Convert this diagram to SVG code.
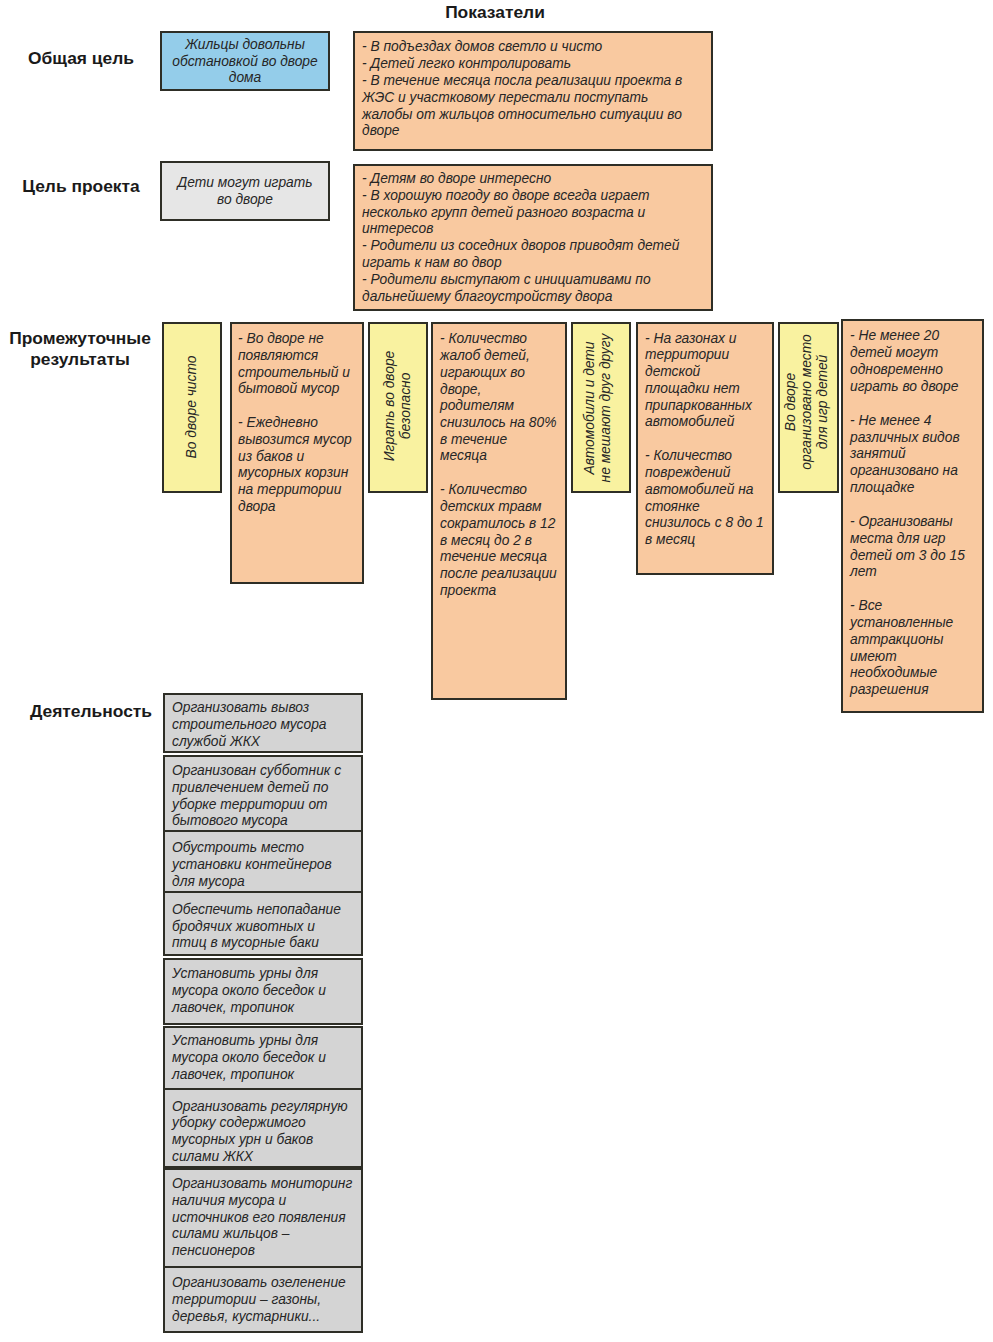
<svg xmlns="http://www.w3.org/2000/svg" width="993" height="1342" viewBox="0 0 993 1342">
<style>
.bg{fill:#ffffff}
.hdr{font-family:"Liberation Sans",Arial,sans-serif;font-weight:bold;font-size:17.4px;fill:#1a1a1a}
.t{font-family:"Liberation Sans",Arial,sans-serif;font-style:italic;font-size:13.8px;fill:#262626}
.c{text-anchor:middle}
.box{stroke:#2e2e26;stroke-width:2}
.blue{fill:#94cdea}
.peach{fill:#f9c9a0}
.yel{fill:#f9f2a0}
.lgray{fill:#e6e6e6}
.gray{fill:#d4d4d4}
</style>
<rect class="bg" x="0" y="0" width="993" height="1342"/>
<g id="labels">
<text class="hdr c" x="495" y="18">Показатели</text>
<text class="hdr c" x="81" y="64">Общая цель</text>
<text class="hdr c" x="81" y="192">Цель проекта</text>
<text class="hdr c" x="80" y="344">Промежуточные</text>
<text class="hdr c" x="80" y="365">результаты</text>
<text class="hdr c" x="91" y="717">Деятельность</text>
</g>
<g id="general-goal">
<rect class="box blue" x="161" y="32" width="168" height="58"/>
<text class="t c"><tspan x="245" y="49">Жильцы довольны</tspan><tspan x="245" y="66">обстановкой во дворе</tspan><tspan x="245" y="82">дома</tspan></text>
</g>
<g id="general-goal-indicators">
<rect class="box peach" x="354" y="32" width="358" height="118"/>
<text class="t"><tspan x="362" y="51">- В подъездах домов светло и чисто</tspan><tspan x="362" y="68">- Детей легко контролировать</tspan><tspan x="362" y="85">- В течение месяца посла реализации проекта в</tspan><tspan x="362" y="102">ЖЭС и участковому перестали поступать</tspan><tspan x="362" y="119">жалобы от жильцов относительно ситуации во</tspan><tspan x="362" y="135">дворе</tspan></text>
</g>
<g id="project-goal">
<rect class="box lgray" x="161" y="162" width="168" height="58"/>
<text class="t c"><tspan x="245" y="187">Дети могут играть</tspan><tspan x="245" y="204">во дворе</tspan></text>
</g>
<g id="project-goal-indicators">
<rect class="box peach" x="354" y="165" width="358" height="145"/>
<text class="t"><tspan x="362" y="183">- Детям во дворе интересно</tspan><tspan x="362" y="200">- В хорошую погоду во дворе всегда играет</tspan><tspan x="362" y="217">несколько групп детей разного возраста и</tspan><tspan x="362" y="233">интересов</tspan><tspan x="362" y="250">- Родители из соседних дворов приводят детей</tspan><tspan x="362" y="267">играть к нам во двор</tspan><tspan x="362" y="284">- Родители выступают с инициативами по</tspan><tspan x="362" y="301">дальнейшему благоустройству двора</tspan></text>
</g>
<g id="result-clean">
<rect class="box yel" x="163" y="323" width="58" height="169"/>
<text class="t c" transform="translate(196 407) rotate(-90)"><tspan x="0" y="0">Во дворе чисто</tspan></text>
</g>
<g id="result-clean-indicators">
<rect class="box peach" x="231" y="323" width="132" height="260"/>
<text class="t"><tspan x="238" y="343">- Во дворе не</tspan><tspan x="238" y="360">появляются</tspan><tspan x="238" y="377">строительный и</tspan><tspan x="238" y="393">бытовой мусор</tspan><tspan x="238" y="427">- Ежедневно</tspan><tspan x="238" y="444">вывозится мусор</tspan><tspan x="238" y="461">из баков и</tspan><tspan x="238" y="477">мусорных корзин</tspan><tspan x="238" y="494">на территории</tspan><tspan x="238" y="511">двора</tspan></text>
</g>
<g id="result-safe">
<rect class="box yel" x="369" y="323" width="58" height="169"/>
<text class="t c" transform="translate(394 406) rotate(-90)"><tspan x="0" y="0">Играть во дворе</tspan><tspan x="0" y="16">безопасно</tspan></text>
</g>
<g id="result-safe-indicators">
<rect class="box peach" x="432" y="323" width="134" height="376"/>
<text class="t"><tspan x="440" y="343">- Количество</tspan><tspan x="440" y="360">жалоб детей,</tspan><tspan x="440" y="377">играющих во</tspan><tspan x="440" y="394">дворе,</tspan><tspan x="440" y="410">родителям</tspan><tspan x="440" y="427">снизилось на 80%</tspan><tspan x="440" y="444">в течение</tspan><tspan x="440" y="460">месяца</tspan><tspan x="440" y="494">- Количество</tspan><tspan x="440" y="511">детских травм</tspan><tspan x="440" y="528">сократилось в 12</tspan><tspan x="440" y="545">в месяц до 2 в</tspan><tspan x="440" y="561">течение месяца</tspan><tspan x="440" y="578">после реализации</tspan><tspan x="440" y="595">проекта</tspan></text>
</g>
<g id="result-cars">
<rect class="box yel" x="572" y="323" width="58" height="169"/>
<text class="t c" transform="translate(594 408) rotate(-90)"><tspan x="0" y="0">Автомобили и дети</tspan><tspan x="0" y="16">не мешают друг другу</tspan></text>
</g>
<g id="result-cars-indicators">
<rect class="box peach" x="637" y="323" width="136" height="251"/>
<text class="t"><tspan x="645" y="343">- На газонах и</tspan><tspan x="645" y="359">территории</tspan><tspan x="645" y="376">детской</tspan><tspan x="645" y="393">площадки нет</tspan><tspan x="645" y="410">припаркованных</tspan><tspan x="645" y="426">автомобилей</tspan><tspan x="645" y="460">- Количество</tspan><tspan x="645" y="477">повреждений</tspan><tspan x="645" y="494">автомобилей на</tspan><tspan x="645" y="511">стоянке</tspan><tspan x="645" y="527">снизилось с 8 до 1</tspan><tspan x="645" y="544">в месяц</tspan></text>
</g>
<g id="result-playground">
<rect class="box yel" x="779" y="323" width="59" height="169"/>
<text class="t c" transform="translate(795 402) rotate(-90)"><tspan x="0" y="0">Во дворе</tspan><tspan x="0" y="16">организовано место</tspan><tspan x="0" y="32">для игр детей</tspan></text>
</g>
<g id="result-playground-indicators">
<rect class="box peach" x="842" y="320" width="141" height="392"/>
<text class="t"><tspan x="850" y="340">- Не менее 20</tspan><tspan x="850" y="357">детей могут</tspan><tspan x="850" y="374">одновременно</tspan><tspan x="850" y="391">играть во дворе</tspan><tspan x="850" y="425">- Не менее 4</tspan><tspan x="850" y="442">различных видов</tspan><tspan x="850" y="458">занятий</tspan><tspan x="850" y="475">организовано на</tspan><tspan x="850" y="492">площадке</tspan><tspan x="850" y="526">- Организованы</tspan><tspan x="850" y="543">места для игр</tspan><tspan x="850" y="560">детей от 3 до 15</tspan><tspan x="850" y="576">лет</tspan><tspan x="850" y="610">- Все</tspan><tspan x="850" y="627">установленные</tspan><tspan x="850" y="644">аттракционы</tspan><tspan x="850" y="661">имеют</tspan><tspan x="850" y="677">необходимые</tspan><tspan x="850" y="694">разрешения</tspan></text>
</g>
<g id="activity-1">
<rect class="box gray" x="164" y="694" width="198" height="58"/>
<text class="t"><tspan x="172" y="712">Организовать вывоз</tspan><tspan x="172" y="729">строительного мусора</tspan><tspan x="172" y="746">службой ЖКХ</tspan></text>
</g>
<g id="activity-2">
<rect class="box gray" x="164" y="756" width="198" height="75"/>
<text class="t"><tspan x="172" y="775">Организован субботник с</tspan><tspan x="172" y="792">привлечением детей по</tspan><tspan x="172" y="809">уборке территории от</tspan><tspan x="172" y="825">бытового мусора</tspan></text>
</g>
<g id="activity-3">
<rect class="box gray" x="164" y="831" width="198" height="61"/>
<text class="t"><tspan x="172" y="852">Обустроить место</tspan><tspan x="172" y="869">установки контейнеров</tspan><tspan x="172" y="886">для мусора</tspan></text>
</g>
<g id="activity-4">
<rect class="box gray" x="164" y="892" width="198" height="63"/>
<text class="t"><tspan x="172" y="914">Обеспечить непопадание</tspan><tspan x="172" y="931">бродячих животных и</tspan><tspan x="172" y="947">птиц в мусорные баки</tspan></text>
</g>
<g id="activity-5">
<rect class="box gray" x="164" y="959" width="198" height="65"/>
<text class="t"><tspan x="172" y="978">Установить урны для</tspan><tspan x="172" y="995">мусора около беседок и</tspan><tspan x="172" y="1012">лавочек, тропинок</tspan></text>
</g>
<g id="activity-6">
<rect class="box gray" x="164" y="1027" width="198" height="62"/>
<text class="t"><tspan x="172" y="1045">Установить урны для</tspan><tspan x="172" y="1062">мусора около беседок и</tspan><tspan x="172" y="1079">лавочек, тропинок</tspan></text>
</g>
<g id="activity-7">
<rect class="box gray" x="164" y="1089" width="198" height="78"/>
<text class="t"><tspan x="172" y="1111">Организовать регулярную</tspan><tspan x="172" y="1127">уборку содержимого</tspan><tspan x="172" y="1144">мусорных урн и баков</tspan><tspan x="172" y="1161">силами ЖКХ</tspan></text>
</g>
<g id="activity-8">
<rect class="box gray" x="164" y="1169" width="198" height="98"/>
<text class="t"><tspan x="172" y="1188">Организовать мониторинг</tspan><tspan x="172" y="1205">наличия мусора и</tspan><tspan x="172" y="1222">источников его появления</tspan><tspan x="172" y="1238">силами жильцов –</tspan><tspan x="172" y="1255">пенсионеров</tspan></text>
</g>
<g id="activity-9">
<rect class="box gray" x="164" y="1267" width="198" height="65"/>
<text class="t"><tspan x="172" y="1287">Организовать озеленение</tspan><tspan x="172" y="1304">территории – газоны,</tspan><tspan x="172" y="1321">деревья, кустарники...</tspan></text>
</g>
</svg>
